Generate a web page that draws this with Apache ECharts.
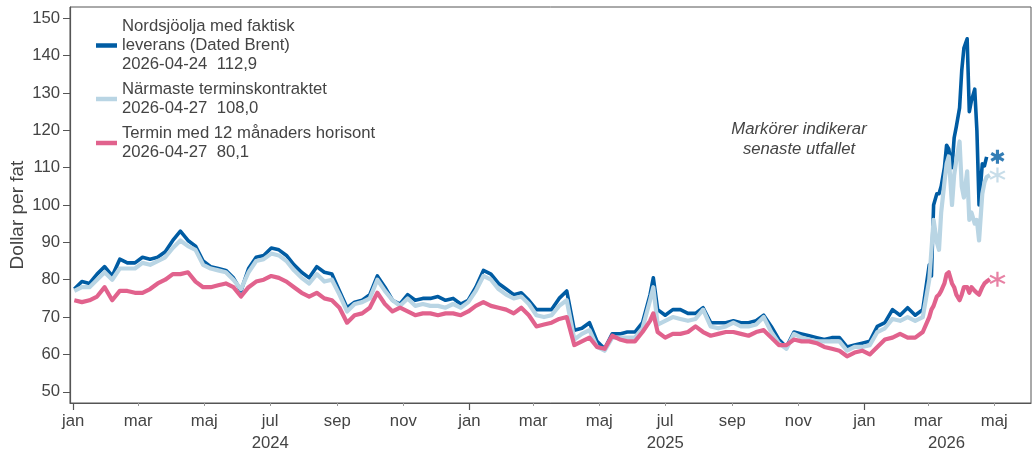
<!DOCTYPE html>
<html><head><meta charset="utf-8">
<script src="https://cdn.jsdelivr.net/npm/echarts@6/dist/echarts.min.js"></script>
<style>html,body{margin:0;padding:0;background:#fff}#c{width:1034px;height:455px}</style>
</head><body><div id="c"></div><script>
// ---- Data ----
const dates2024 = ['2024-01-02','2024-01-09','2024-01-16','2024-01-23','2024-01-30','2024-02-06','2024-02-13','2024-02-20','2024-02-27','2024-03-05','2024-03-12','2024-03-19','2024-03-26','2024-04-02','2024-04-09','2024-04-16','2024-04-23','2024-04-30','2024-05-07','2024-05-14','2024-05-21','2024-05-28','2024-06-04','2024-06-11','2024-06-18','2024-06-25','2024-07-02','2024-07-09','2024-07-16','2024-07-23','2024-07-30','2024-08-06','2024-08-13','2024-08-20','2024-08-27','2024-09-03','2024-09-10','2024-09-17','2024-09-24','2024-10-01','2024-10-08','2024-10-15','2024-10-22','2024-10-29','2024-11-05','2024-11-12','2024-11-19','2024-11-26','2024-12-03','2024-12-10','2024-12-17','2024-12-24','2024-12-31'];
const dates2025 = ['2025-01-07','2025-01-14','2025-01-21','2025-01-28','2025-02-04','2025-02-11','2025-02-18','2025-02-25','2025-03-04','2025-03-11','2025-03-18','2025-03-25','2025-04-01','2025-04-08','2025-04-15','2025-04-22','2025-04-29','2025-05-06','2025-05-13','2025-05-20','2025-05-27','2025-06-03','2025-06-10','2025-06-17','2025-06-20','2025-06-24','2025-07-01','2025-07-08','2025-07-15','2025-07-22','2025-07-29','2025-08-05','2025-08-12','2025-08-19','2025-08-26','2025-09-02','2025-09-09','2025-09-16','2025-09-23','2025-09-30','2025-10-07','2025-10-14','2025-10-21','2025-10-28','2025-11-04','2025-11-11','2025-11-18','2025-11-25','2025-12-02','2025-12-09','2025-12-16','2025-12-23','2025-12-30'];
const dates2026 = ['2026-01-06','2026-01-13','2026-01-20','2026-01-27','2026-02-03','2026-02-10','2026-02-17','2026-02-24','2026-03-02','2026-03-04','2026-03-06','2026-03-09','2026-03-11','2026-03-13','2026-03-16','2026-03-18','2026-03-20','2026-03-23','2026-03-25','2026-03-27','2026-03-30','2026-04-01','2026-04-03','2026-04-06','2026-04-08','2026-04-10','2026-04-13','2026-04-15','2026-04-17','2026-04-20','2026-04-22','2026-04-24','2026-04-27'];

const brent2024 = [77.5,79.5,79,81.5,83.5,81,85.5,84.5,84.5,86,85.5,86,87.5,90.5,93,90.5,89,85,83.5,83,82.5,80.5,77,83,86,86.5,88.5,88,86.5,84,82,80.5,83.5,82,81.5,77,72.5,74,74.5,76,81,78,74.5,73.5,76,74.5,75,75,75.5,74.5,75,73.5,74.5];
const brent2025 = [78,82.5,81.5,79,77.5,76,76.5,74.5,72,72,72,75,77,66.5,67,68.5,63.5,61.5,65.5,65.5,66,66,68.5,76,80.5,72,70.5,72,72,71,71,72.5,68.5,68.5,68.5,69,68.5,68.5,69,70.5,67.5,64,62,66,65.5,65,64.5,64,64.5,64.5,62,62.5,63];
const brent2026 = [63.5,67.5,68.5,72,70.5,72.5,70.5,72,84,81,100,103,103,105,110,116,115,110,118,121,126,136,142,144.5,125,128,131,120,100,111,110.5,112.9,null];

const front2024 = [77,78,78,80,82,80,83,83,83,84.5,84,85,86,88.5,90.5,89,88,84,83,82.5,82,80,77.5,82,85,85.5,87,86.5,85,82.5,80.5,79,81.5,79.5,80,76,71.5,73.5,74,75,80,77,74.5,73,75,73,73.5,73,73,72.5,73.5,72.5,74];
const front2025 = [77,81,80,77.5,76,75,75.5,73.5,70.5,70,70.5,73,74.5,64,65.5,66.5,62,61,64.5,64.5,64.5,64.5,67,74.5,78,68,69,70,69.5,69,69.5,72,67.5,67,67.5,68.5,67.5,67.5,68,70,66,63,61.5,65.5,64.5,64,63.5,63.5,63.5,63.5,61,62,62];
const front2026 = [62.5,66,67,69.5,69,70,69,70,80,88,96,90,88,98,106,111,113,100,108,112,117,105,102,109,96,98,95,96,90.5,103,106,107.5,108];

const fwd2024 = [74.5,74,74.5,75.5,78,74.5,77,77,76.5,76.5,77.5,79,80,81.5,81.5,82,79.5,78,78,78.5,79,78,75.5,78,79.5,80,81,80.5,79.5,78,76.5,75.5,76.5,75,74.5,72.5,68.5,70.5,71,72.5,76.5,73.5,71.5,72.5,71.5,70.5,71,71,70.5,71,71,70.5,71.5];
const fwd2025 = [73,74,73,72.5,72,71,72.5,70.5,67.5,68,68.5,69.5,70,62.5,63.5,64.5,62,61.5,65,64,63.5,63.5,66,69,71,66,64.5,65.5,65.5,66,67.5,66,65,65.5,66,66,65.5,65,66,66.5,64.5,62.5,62.5,64,63.5,63.5,63,62,61.5,61,59.5,60.5,61];
const fwd2026 = [60,62,64,64.5,65.5,64.5,64.5,66,70,72,73,75.5,76,77,79,81.5,82,79,78,76,74.5,76,78,78,76.5,78,77,76.5,76,78,79,79.5,80.1];

const seriesNames = ['Dated Brent','Närmaste terminskontraktet','Termin med 12 månaders horisont'];
const legendTitles = [['Nordsjöolja med faktisk','leverans (Dated Brent)'],['Närmaste terminskontraktet'],['Termin med 12 månaders horisont']];
const monthTicks = ['2024-01-01','2024-03-01','2024-05-01','2024-07-01','2024-09-01','2024-11-01','2025-01-01','2025-03-01','2025-05-01','2025-07-01','2025-09-01','2025-11-01','2026-01-01','2026-03-01','2026-05-01'];
const monthNames = ['jan','feb','mar','apr','maj','jun','jul','aug','sep','okt','nov','dec'];
const yearTicks = ['2024-01-01','2025-01-01','2026-01-01'];
const yearLabelDates = ['2024-07-01','2025-07-01','2026-03-18'];
const yTicks = [50,60,70,80,90,100,110,120,130,140,150];
const markerDate = '2026-05-04';
const yAxisTitle = 'Dollar per fat';
const noteLines = ['Markörer indikerar','senaste utfallet'];

// ---- Build ----
const t = s => new Date(s + 'T00:00:00').getTime();
const allDates = dates2024.concat(dates2025, dates2026);
const seriesValues = [
  brent2024.concat(brent2025, brent2026),
  front2024.concat(front2025, front2026),
  fwd2024.concat(fwd2025, fwd2026)
];
const colors = ['#005CA3', '#B9D5E4', '#E1628D'];
const widths = [3.6, 4.2, 4.2];
const TEXT = '#444444';
const FONT = 'Liberation Sans, Arial, sans-serif';
const FS = 16.7;
const X_MIN = t('2023-12-29'), X_MAX = t('2026-06-04');

function lastPoint(vals) {
  for (let i = vals.length - 1; i >= 0; i--) if (vals[i] != null) return [allDates[i], vals[i]];
}
const fmt = v => v.toFixed(1).replace('.', ',');

function asteriskPath(w) {
  const L = 10, parts = [];
  [90, 30, -30].forEach(a => {
    const r = a * Math.PI / 180, dx = Math.cos(r), dy = Math.sin(r), nx = -dy, ny = dx;
    const pts = [[L*dx + w/2*nx, L*dy + w/2*ny],[L*dx - w/2*nx, L*dy - w/2*ny],[-L*dx - w/2*nx, -L*dy - w/2*ny],[-L*dx + w/2*nx, -L*dy + w/2*ny]];
    parts.push('M' + pts.map(p => (p[0] + 10).toFixed(2) + ' ' + (p[1] + 10).toFixed(2)).join(' L') + ' Z');
  });
  return 'path://' + parts.join(' ');
}
const markerWidths = [4.4, 2.6, 2.6];
const markerSizes = [[14, 14], [16, 15], [16, 15]];

const series = [];
seriesValues.forEach((vals, i) => {
  series.push({
    type: 'line', name: seriesNames[i],
    data: vals.map((v, j) => [t(allDates[j]), v]),
    showSymbol: false, connectNulls: false, z: 2 + i,
    lineStyle: { width: widths[i], color: colors[i], join: 'round' },
    itemStyle: { color: colors[i] }
  });
});
seriesValues.forEach((vals, i) => {
  const lp = lastPoint(vals);
  series.push({
    type: 'scatter', name: 'marker' + i, silent: true, z: 6,
    data: [[t(markerDate), lp[1]]],
    symbol: asteriskPath(markerWidths[i]), symbolSize: markerSizes[i],
    itemStyle: { color: colors[i] }
  });
});

const legendText = {};
seriesNames.forEach((n, i) => {
  const lp = lastPoint(seriesValues[i]);
  legendText[n] = legendTitles[i].concat([lp[0] + '  ' + fmt(lp[1])]).join('\n');
});

const chart = echarts.init(document.getElementById('c'), null, { renderer: 'canvas' });
chart.setOption({
  animation: false,
  textStyle: { fontFamily: FONT },
  grid: { left: 70, right: 3, top: 7, bottom: 52, show: true, borderColor: '#555', borderWidth: 1, backgroundColor: 'transparent' },
  legend: {
    orient: 'vertical', left: 96, top: 17, padding: 0, itemGap: 6,
    itemWidth: 21, itemHeight: 4.5, icon: 'rect',
    data: seriesNames, selectedMode: false,
    formatter: n => legendText[n],
    textStyle: { fontSize: FS, color: TEXT, lineHeight: 19, fontFamily: FONT }
  },
  xAxis: [{
    type: 'value', min: X_MIN, max: X_MAX, scale: true,
    axisLine: { lineStyle: { color: '#555', width: 1.2 } },
    axisTick: { show: true, length: 3, customValues: monthTicks.map(t), lineStyle: { color: '#999' } },
    axisLabel: { customValues: monthTicks.map(t), formatter: v => monthNames[new Date(v).getMonth()], fontSize: FS, color: TEXT, margin: 10, fontFamily: FONT },
    splitLine: { show: false }
  }, {
    type: 'value', position: 'bottom', min: X_MIN, max: X_MAX, scale: true,
    axisLine: { show: false },
    axisTick: { show: true, length: 7, customValues: yearTicks.map(t), lineStyle: { color: '#555', width: 1.2 } },
    axisLabel: { customValues: yearLabelDates.map(t), formatter: v => String(new Date(v).getFullYear()), fontSize: FS, color: TEXT, margin: 32, fontFamily: FONT },
    splitLine: { show: false }
  }],
  yAxis: {
    type: 'value', min: 47, max: 153,
    axisLine: { show: true, lineStyle: { color: '#555', width: 1.2 } },
    axisTick: { show: true, length: 7, customValues: yTicks, lineStyle: { color: '#555' } },
    axisLabel: { customValues: yTicks, fontSize: FS, color: TEXT, margin: 10, fontFamily: FONT },
    splitLine: { show: false }
  },
  graphic: [
    { type: 'text', x: 18, y: 215, rotation: Math.PI / 2,
      style: { text: yAxisTitle, fontSize: 19, fill: TEXT, align: 'center', verticalAlign: 'middle', fontFamily: FONT } },
    { type: 'text', x: 799, y: 139.5,
      style: { text: noteLines.join('\n'), fontSize: FS, lineHeight: 20, fontStyle: 'italic', fill: TEXT, align: 'center', verticalAlign: 'middle', fontFamily: FONT } }
  ],
  series: series
});
</script></body></html>
